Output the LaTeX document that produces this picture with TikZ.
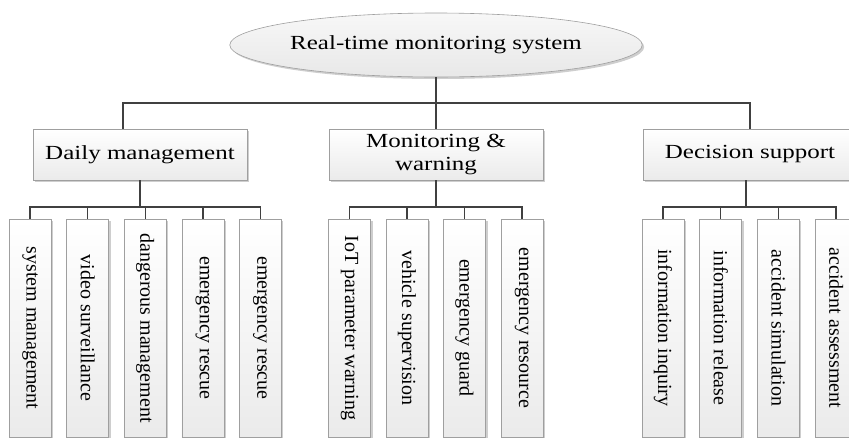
\documentclass[tikz,border=0pt]{standalone}
\usepackage{fontspec}
\setmainfont{Liberation Serif}
\newfontfamily\widefont[FakeStretch=1.25]{Liberation Serif}
\usetikzlibrary{shapes.geometric,shadows}

\begin{document}
\begin{tikzpicture}[x=1pt,y=-1pt,
  link/.style={draw=black!75,line width=1.4pt},
  box/.style={draw=gray!75,line width=0.6pt,top color=white,bottom color=gray!16,
    drop shadow={shadow xshift=2pt,shadow yshift=-2pt,fill=gray!55,opacity=0.7},
    inner sep=0pt,align=center},
  rootnode/.style={ellipse,draw=gray!75,line width=0.6pt,top color=gray!6,bottom color=gray!18,
    drop shadow={shadow xshift=2pt,shadow yshift=-2pt,fill=gray!55,opacity=0.7},
    minimum width=396,minimum height=64,inner sep=0pt,font=\widefont\fontsize{20}{23}\selectfont},
  head/.style={box,minimum width=214,minimum height=51,font=\widefont\fontsize{20}{23}\selectfont},
  leaf/.style={box,minimum width=42,minimum height=218,font=\fontsize{20}{23}\selectfont}]
\path[use as bounding box,clip] (0,0) rectangle (849,437);

\node[rootnode] (root) at (436,45) {Real-time monitoring system};
\node[head] (daily) at (140,154.5) {Daily management};
\node[head] (monit) at (436,154.5) {Monitoring \&\\warning};
\node[head] (decis) at (750,154.5) {Decision support};

% leaves
\foreach \txt [count=\i] in {system management,video surveillance,dangerous management,emergency rescue,emergency rescue}
  \node[leaf] (d\i) at ({30+57.6*(\i-1)},328) {\rotatebox{-90}{\txt}};
\foreach \txt [count=\i] in {IoT parameter warning,vehicle supervision,emergency guard,emergency resource}
  \node[leaf] (m\i) at ({349.5+57.5*(\i-1)},328) {\rotatebox{-90}{\txt}};
\foreach \txt [count=\i] in {information inquiry,information release,accident simulation,accident assessment}
  \node[leaf] (s\i) at ({663+57.7*(\i-1)},328) {\rotatebox{-90}{\txt}};

\coordinate (topbus) at (0,103);	%first level
\coordinate (lowbus) at (0,207);	%second level

\draw[link] (root.south) -- (root.south |- topbus);
\draw[link] ([xshift=-17]daily.north) |- (decis.north |- topbus) -- (decis.north);
\draw[link] (monit.north) -- (monit.north |- topbus);

\draw[link] (daily.south) -- (daily.south |- lowbus);
\draw[link] (d1.north) |- (d5.north |- lowbus) -- (d5.north);
\foreach \i in {2,3,4} \draw[link] (d\i.north) -- (d\i.north |- lowbus);

\draw[link] (monit.south) -- (monit.south |- lowbus);
\draw[link] (m1.north) |- (m4.north |- lowbus) -- (m4.north);
\foreach \i in {2,3} \draw[link] (m\i.north) -- (m\i.north |- lowbus);

\draw[link] ([xshift=-4]decis.south) -- ([xshift=-4]decis.south |- lowbus);
\draw[link] (s1.north) |- (s4.north |- lowbus) -- (s4.north);
\foreach \i in {2,3} \draw[link] (s\i.north) -- (s\i.north |- lowbus);
\end{tikzpicture}
\end{document}
